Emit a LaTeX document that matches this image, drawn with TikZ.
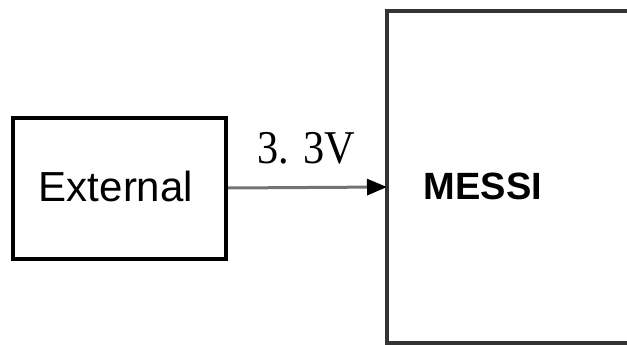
\documentclass[tikz,border=0pt]{standalone}
\usepackage{fontspec}
\setmainfont{Liberation Sans}
\newfontfamily\labelfont{Liberation Serif}
\usetikzlibrary{arrows.meta}
\begin{document}
\begin{tikzpicture}[x=1pt,y=-1pt,
  blockbox/.style={draw=black,line width=4pt,fill=white,inner sep=0pt},
  link/.style={draw=black!55,line width=3pt,-{Triangle[length=20pt,width=16pt,black]}}]
\useasboundingbox (0,0) rectangle (627,345);
\begin{scope}
\clip (0,0) rectangle (627,345);
\draw[line width=3.5pt,draw=black!80] (387,11) rectangle (660,343);
\end{scope}
\coordinate (messiL) at (387,187);
\node[blockbox,minimum width=213pt,minimum height=141pt] (ext) at (119.5,188) {};
\node[font=\fontsize{42}{42}\selectfont] (exttext) at (116,186) {External};
\node[font=\bfseries\fontsize{38}{38}\selectfont] (messi) at (483,186) {MESSI};
\draw[link] (ext.east) -- (messiL);
\node[font=\labelfont\fontsize{47}{47}\selectfont] (volt) at (306,148) {\scalebox{0.9}[1]{3. 3V}};
\end{tikzpicture}
\end{document}
